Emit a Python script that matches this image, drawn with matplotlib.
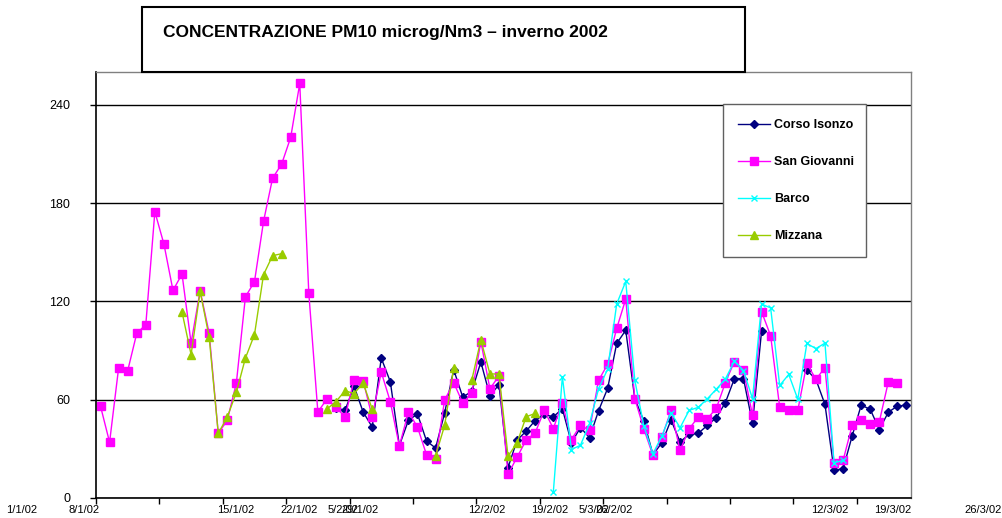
"""Concentrazione PM10 inverno 2002 - grafico stile Excel."""

import matplotlib

matplotlib.use("Agg")
import matplotlib.pyplot as plt
import numpy as np
from matplotlib.patches import Rectangle

nan = np.nan

# giorni dal 1/1/02 al 31/3/02 (asse a categorie)
days = np.arange(90)

san_giovanni = [
    56, 34, 79.5, 77.7, 100.5, 105.8, 174.7, 155, 126.7, 136.7,
    94.6, 126.5, 100.5, 39.5, 47.4, 70.2, 122.8, 132, 168.8, 195.2,
    203.8, 220.1, 253, 125, 52.5, 60.4, 55.5, 49.4, 72.2, 71.6,
    49.4, 76.9, 58.8, 31.7, 52.5, 43.3, 26.4, 23.6, 59.8, 70.4,
    58, 63.9, 95.4, 66.7, 74.5, 14.5, 24.9, 35.3, 39.8, 53.5,
    42.4, 58, 35.7, 44.3, 41.4, 71.8, 81.6, 103.5, 121.4, 60.6,
    42.2, 26, 37.3, 53.5, 29, 42.2, 49.4, 48.4, 54.7, 70.4,
    83.3, 78.2, 50.4, 113.7, 99, 55.5, 53.5, 53.5, 82.2, 72.4,
    79.6, 21.4, 22.9, 44.3, 47.6, 44.9, 46.5, 71, 70, nan,
]

corso_isonzo = [nan] * 26 + [
    55, 53.5, 68.1, 52.5,
    43.3, 85.4, 71, 32, 47.4, 51.3, 34.8, 30.5, 51.9, 78.3,
    61.6, 65.1, 83, 62.4, 69.2, 18.6, 35.3, 40.8, 47.3, 51,
    49.5, 54.5, 33.7, 43, 36.8, 53.3, 66.9, 94.3, 102.4, 60.6,
    47, 26.5, 33.7, 47.6, 34.3, 38.8, 39.4, 44.3, 49, 58.2,
    72.9, 72.9, 45.5, 102, nan, nan, nan, nan, 78, 72.4,
    57.1, 17, 17.8, 37.8, 56.7, 54.1, 41.8, 52.4, 56.1, 56.7,
]

barco = [nan] * 50 + [
    3.5, 74, 29.6, 32.2, 45.5, 66.7, 78.6, 118.4, 132.2, 71.8,
    44, 27, 38, 52, 42.9, 53.5, 55.3, 60.5, 66.4, 72.6,
    83.6, 77.8, 60.6, 118.4, 116, 68.7, 75.4, 60.3, 94.3, 91.2,
    94.5, 21.5, 22.9, nan, nan, nan, nan, nan, nan, nan,
]

mizzana = [nan] * 9 + [
    113.5,
    87.5, 126.1, 98, 39.5, 49.4, 64.5, 85.4, 99.7, 136.3, 147.9,
    149.1, nan, nan, nan, nan, 54.3, 58.8, 65.5, 63.7, 70.2,
    54.3, nan, nan, nan, nan, nan, nan, 25.8, 44.3, 79.3,
    nan, 72, 96.6, 75.7, 75.7, 25.5, 33.7, 49.6, 51.6,
] + [nan] * 41

# etichette asse x, come appaiono (sovrapposte) nel grafico originale
tick_labels = ["1/1/02", "8/1/02", "15/1/02", "22/1/02", "5/2/02", "29/1/02",
               "12/2/02", "19/2/02", "5/3/02", "26/2/02", "12/3/02",
               "19/3/02", "26/3/02"]
tick_label_pos = [-8.67, -1.82, 14.96, 21.92, 26.78, 28.66, 42.68, 49.64,
                  54.5, 56.7, 80.55, 87.5, 97.45]

y_ticks = [0, 60, 120, 180, 240]

plt.rcParams["font.family"] = ["Liberation Sans", "DejaVu Sans"]

fig = plt.figure(figsize=(10.02, 5.18), dpi=100)
ax = fig.add_axes([96 / 1002, 20 / 518, 815 / 1002, 426 / 518])

series = [
    ("Corso Isonzo", corso_isonzo, "#000080", "D", 3.8, {}),
    ("San Giovanni", san_giovanni, "#FF00FF", "s", 5.8, {}),
    ("Barco", barco, "#00FFFF", "x", 5.0, {"markeredgewidth": 1.0}),
    ("Mizzana", mizzana, "#99CC00", "^", 6.0, {}),
]
for name, values, color, marker, ms, extra in series:
    ax.plot(days, values, color=color, marker=marker, markersize=ms,
            linewidth=1.0, label=name, **extra)

ax.set_xlim(-0.5, 89.5)
ax.set_ylim(0, 260)

ax.set_yticks(y_ticks)
ax.yaxis.grid(True, color="black", linewidth=1.0)
ax.set_axisbelow(True)
ax.tick_params(axis="y", length=4.5, width=1.0, pad=14, labelsize=9)

ax.set_xticks(np.arange(-0.5, 90, 7))
ax.set_xticklabels([])
ax.tick_params(axis="x", length=4, width=1.0, direction="out")
for lab, pos in zip(tick_labels, tick_label_pos):
    ax.text(pos, -0.027, lab, transform=ax.get_xaxis_transform(),
            ha="center", va="center", fontsize=8, clip_on=False)

for side in ("left", "bottom"):
    ax.spines[side].set_color("black")
    ax.spines[side].set_linewidth(1.2)
for side in ("top", "right"):
    ax.spines[side].set_color("#808080")
    ax.spines[side].set_linewidth(1.0)

leg = ax.legend(loc="upper left", bbox_to_anchor=(717 / 1002, 1 - 103 / 518, 155 / 1002, 0.01),
                bbox_transform=fig.transFigure, mode="expand",
                prop={"weight": "bold", "size": 9}, labelspacing=2.0,
                handlelength=2.5, handletextpad=0.4, borderpad=1.2,
                fancybox=False, frameon=True, framealpha=1, edgecolor="#606060")
leg.get_frame().set_linewidth(1.0)

# riquadro del titolo
fig.patches.append(Rectangle((142 / 1002, 1 - 72 / 518), 603 / 1002, 65 / 518,
                             transform=fig.transFigure, facecolor="white",
                             edgecolor="black", linewidth=1.5, zorder=5))
fig.text(163 / 1002, 1 - 32 / 518, "CONCENTRAZIONE PM10 microg/Nm3 \u2013 inverno 2002",
         fontsize=12.5, fontweight="bold", ha="left", va="center", zorder=6)

fig.savefig("out.png", dpi=100, facecolor="white")
plt.close(fig)
